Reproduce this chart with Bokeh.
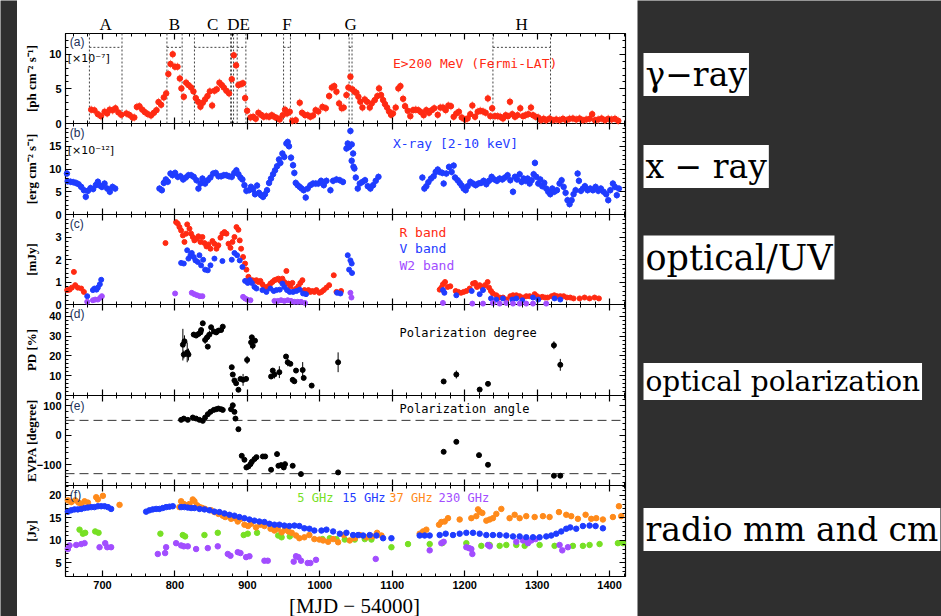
import numpy as np
from bokeh.plotting import figure
from bokeh.layouts import column, row
from bokeh.models import Range1d, FixedTicker, LinearAxis, Label, CustomLabelingPolicy
from bokeh.core.properties import value
from bokeh.embed import file_html
from bokeh.resources import INLINE

# ---------------------------------------------------------------- data
X_RANGE = (649, 1422)                      # MJD - 54000 shown in every panel
X_MAJOR = [700, 800, 900, 1000, 1100, 1200, 1300, 1400]
X_MINOR_STEP = 20

BOX_START = [682, 789, 827, 878, 886, 950, 1040.5, 1239]
BOX_END = [727, 810, 877, 881, 898, 959.5, 1044.5, 1318.5]
BOX_TOP = 11
LETTERS = ["A", "B", "C", "DE", "F", "G", "H"]
LETTER_BOXES = [[0], [1], [2], [3, 4], [5], [6], [7]]

# panel name, value range, labelled ticks, minor step, y title
PANELS = [
    ("a", (0, 13), [0, 5, 10], 1, "[ph cm⁻² s⁻¹]"),
    ("b", (0, 20), [0, 5, 10, 15], 1, "[erg cm⁻² s⁻¹]"),
    ("c", (0, 4), [0, 1, 2, 3], 0.2, "[mJy]"),
    ("d", (0, 46), [0, 10, 20, 30, 40], 2, "PD [%]"),
    ("e", (-170, 134), [-100, 0, 100], 20, "EVPA [degree]"),
    ("f", (2, 22.2), [5, 10, 15, 20], 1, "[Jy]"),
]

GAMMA = [(684.5, 2.0), (689, 1.9), (693.7, 1.35), (698, 1.06), (703, 1.7), (706.5, 1.45), (710, 2.0),
         (714, 1.9), (718, 2.2), (722, 1.6), (726, 1.25), (733, 1.45), (737, 1.25), (741.5, 0.87),
         (744, 0.87), (747.5, 2.4), (751, 2.5), (755, 2.0), (758.6, 1.64), (762.7, 1.35), (767, 1.16),
         (771, 1.55), (774.6, 1.93), (777.4, 3.1), (781, 2.7), (784.7, 3.77), (788, 4.35), (791, 7.15),
         (794, 8.6), (797, 10.0), (800, 8.2), (803.6, 8.2), (806.8, 6.5), (809, 5.07), (812.3, 3.86),
         (815.5, 5.9), (818.7, 5.55), (822.4, 5.2), (825.6, 4.64), (828.8, 3.67), (832, 3.14),
         (835.3, 2.42), (838.5, 3.0), (841.7, 3.48), (845, 3.96), (848.2, 4.64), (851.4, 2.6),
         (854.6, 4.73), (857.8, 4.93), (861.5, 5.9), (864.7, 5.55), (867.5, 5.2), (871.1, 4.73),
         (874.8, 4.35), (878.5, 6.4), (881.3, 9.85), (884.5, 8.4), (887.7, 5.55), (891.4, 5.7),
         (894, 5.8), (897, 3.67), (899.7, 1.84), (904.3, 0.87), (908, 0.97), (911.6, 0.68),
         (915.3, 1.55), (919, 1.25), (922.6, 0.97), (926.3, 1.06), (930, 0.97), (933.7, 1.2),
         (937.3, 0.97), (941, 0.77), (944.6, 0.58), (948.8, 1.2), (952, 2.0), (954.8, 1.45),
         (958.5, 1.7), (962, 0.39), (966.8, 0.48), (972.3, 3.0), (975.5, 1.55), (979.7, 1.2),
         (983.3, 1.2), (987, 0.97), (990.7, 1.16), (994.3, 1.93), (998, 1.74),
         (1003.7, 2.4), (1008.3, 2.2), (1012.9, 3.96), (1016.6, 5.2), (1020, 5.4), (1023, 4.6),
         (1026.7, 2.9), (1030.3, 2.2), (1033, 2.3), (1036.8, 4.1), (1039.5, 5.2), (1042.3, 6.76),
         (1045, 4.93), (1047.8, 4.6), (1050.6, 4.44), (1053.3, 3.86), (1056, 3.14), (1058.9, 2.3),
         (1062, 3.48), (1065.3, 3.14), (1069, 2.3), (1071.7, 2.9), (1075.9, 3.38), (1079.5, 3.96),
         (1081.8, 5.07), (1084.6, 4.1), (1087.4, 3.38), (1090, 2.8), (1092.9, 2.3), (1095.6, 1.74),
         (1098.4, 1.25), (1101, 1.45), (1104.8, 2.3), (1108.5, 5.07), (1111.3, 5.4), (1115, 3.57),
         (1117.7, 2.5), (1121.4, 1.84), (1125, 1.06), (1128.7, 1.93), (1132.4, 2.0), (1136, 1.93),
         (1139.8, 1.64), (1143.4, 1.2), (1147, 1.93), (1150.8, 1.55), (1154.5, 1.93), (1158, 2.2),
         (1162.8, 1.25), (1166.4, 2.3), (1170, 2.3), (1173.8, 1.93), (1177.5, 2.6), (1181, 2.5),
         (1184.8, 0.97), (1188.5, 1.45), (1192, 1.7), (1195.9, 0.87), (1200.5, 0.58), (1204, 0.72),
         (1207.8, 1.35), (1210.6, 2.6), (1214.3, 0.97), (1218, 1.7), (1221.6, 1.84), (1225.3, 1.74),
         (1229, 1.55), (1232, 3.62), (1235.4, 1.06), (1238, 2.2), (1241.8, 1.06), (1245.5, 1.06),
         (1249.2, 0.97), (1252.9, 0.72), (1256.6, 1.2), (1259.8, 1.06), (1262.5, 3.14), (1265.7, 1.35),
         (1269.4, 0.97), (1273, 1.2), (1276.8, 2.2), (1280.5, 1.06), (1284, 1.2), (1287.8, 1.35),
         (1291.5, 2.3), (1294.3, 1.2), (1298, 0.97), (1301.6, 0.87), (1305.3, 0.48), (1309, 0.68),
         (1312.6, 0.48), (1317.2, 0.72), (1321.8, 0.48), (1326.4, 0.58), (1331, 0.48), (1335.6, 0.68),
         (1340.2, 0.48), (1344.8, 0.68), (1349.4, 0.72), (1354, 0.58), (1358.6, 0.72), (1363.2, 0.48),
         (1367.8, 0.58), (1372.4, 0.68), (1376, 1.35), (1379.8, 0.48), (1384.4, 0.58), (1389, 0.72),
         (1393.6, 0.48), (1398.2, 0.68), (1402.8, 0.58), (1407.4, 0.68), (1412, 0.39)]
GAMMA_ERR = 0.6

XRAY = [(651, 9.0), (652, 7.3), (656, 7.2), (659.7, 7.1), (663.3, 6.95), (667, 6.66), (670.7, 6.07),
        (674.4, 5.34), (677, 3.9), (680, 5.2), (683.6, 5.8), (687.2, 5.6), (691, 6.5), (693.7, 7.2),
        (696.4, 6.36), (699.2, 6.07), (702.9, 6.8), (706.6, 5.7), (710.2, 5.0), (713.9, 6.07),
        (717.6, 5.7), (778.7, 5.7), (782, 5.34), (784.7, 6.95), (787.5, 7.7), (790.2, 7.2), (793.9, 9.0),
        (796.7, 8.63), (800.3, 9.14), (804, 8.27), (807.7, 8.4), (811.4, 7.7), (815, 8.12), (818.7, 8.63),
        (822.4, 8.63), (826, 8.27), (829.8, 7.53), (832.5, 5.7), (835.3, 6.8), (838, 7.9), (841.7, 6.8),
        (845.4, 7.53), (849, 8.12), (852.8, 9.0), (856.4, 9.14), (860.1, 8.4), (863.8, 8.4),
        (867.5, 8.63), (871, 8.63), (874.8, 8.4), (878.5, 8.27), (882, 9.14), (884.9, 9.7),
        (887.7, 8.85), (890.5, 8.12), (893.2, 7.7), (896, 6.44), (898.7, 5.2), (902.4, 5.34),
        (905, 6.07), (907.9, 5.5), (910.6, 4.46), (913.4, 6.36), (916.1, 4.76), (918.9, 4.24),
        (921.7, 3.88), (924.4, 4.46), (927.2, 5.34), (930, 6.95), (932.7, 7.9), (935.5, 8.85),
        (938.2, 9.7), (941, 10.6), (943.7, 12.1), (945.6, 11.34), (948.4, 13.4), (951, 12.66),
        (953.9, 15.6), (955.7, 15.95), (957.5, 15.0), (960.3, 12.5), (963.1, 10.83), (964.9, 9.14),
        (966.8, 6.95), (969.5, 6.44), (972.3, 6.07), (975, 5.7), (977.8, 5.34), (980.6, 3.73),
        (983.3, 5.7), (987, 6.44), (990.7, 6.8), (994.4, 6.8), (998, 6.8),
        (1001.8, 7.4), (1005.5, 6.44), (1009.2, 7.4), (1014.7, 5.34), (1018.4, 7.4), (1023, 7.7),
        (1027.6, 7.53), (1032, 7.17), (1036.8, 14.5), (1038.6, 15.6), (1040.5, 14.85), (1042.3, 18.36),
        (1044.1, 15.4), (1046, 13.4), (1044, 11.8), (1046.5, 10.5), (1047.8, 10.1), (1049.7, 8.12),
        (1052.4, 5.7), (1055.2, 6.8), (1058.9, 7.17), (1062.5, 7.53), (1066.2, 6.22), (1069.9, 5.7),
        (1073.6, 6.44), (1077.2, 7.4), (1081, 8.27),
        (1141.6, 8.12), (1144.4, 5.7), (1147.1, 6.22), (1149.9, 7.1), (1153.6, 7.9), (1157.2, 8.4),
        (1160, 9.36), (1162.8, 9.88), (1165.5, 9.36), (1169.2, 9.14), (1171, 6.8), (1174.7, 9.0),
        (1178.4, 10.46), (1182, 9.36), (1184.8, 10.75), (1186.7, 8.12), (1190.3, 7.53), (1193.1, 6.95),
        (1195.9, 6.36), (1198.6, 5.7), (1201.4, 5.34), (1204.1, 6.22), (1207.8, 7.17), (1211.5, 6.8),
        (1215.2, 6.44), (1218.9, 6.8), (1222.5, 6.95), (1226.2, 7.4), (1229.9, 6.66), (1233.6, 7.4),
        (1237.2, 8.27), (1241, 7.7), (1244.6, 7.4), (1248.3, 7.9), (1252, 7.7), (1255.6, 8.12),
        (1259.3, 8.63), (1263, 7.53), (1266.7, 5.0), (1269.4, 8.27), (1272.2, 7.7), (1275.9, 8.85),
        (1278.6, 7.17), (1281.4, 7.9), (1284.1, 7.4), (1286.9, 7.9), (1289.7, 6.8), (1292.4, 7.53),
        (1295.2, 8.85), (1297, 11.34), (1298.9, 8.27), (1301.6, 6.8), (1304.4, 7.7), (1307.1, 6.22),
        (1309.9, 6.95), (1312.6, 5.7), (1315.4, 5.0), (1318.2, 4.46), (1320.9, 5.7), (1323.7, 5.0),
        (1327.4, 5.34), (1331, 6.8), (1333.8, 7.53), (1336.6, 6.07), (1339.3, 4.76), (1342, 3.15),
        (1344.8, 2.27), (1347.6, 3.15), (1350.3, 4.46), (1353.1, 5.34), (1355.9, 9.0), (1357.7, 7.4),
        (1360.5, 5.2), (1363.2, 5.7), (1366, 6.22), (1369.7, 5.34), (1373.3, 5.7), (1377, 5.34),
        (1380.7, 6.07), (1384.4, 5.2), (1388, 5.7), (1391.7, 5.0), (1395.4, 4.46), (1398.2, 3.15),
        (1401, 5.34), (1404.6, 6.8), (1407.4, 6.07), (1410, 4.24), (1412.9, 5.7)]
XRAY_ERR = 0.8

R_BAND = [(651.4, 0.64), (654.6, 0.66), (657.8, 0.75), (660.6, 1.45), (662.4, 0.86), (666, 0.75),
          (670.7, 0.71), (674.4, 0.56), (787, 2.73), (801.7, 3.66), (804, 3.59), (806.3, 3.44),
          (808.6, 3.29), (811, 3.07), (813.2, 2.78), (815.5, 3.15), (817, 3.56), (820.1, 3.37),
          (822.4, 3.15), (824.7, 3.0), (826.9, 2.85), (829.8, 2.92), (832.5, 3.03), (835.3, 2.78),
          (838, 3.0), (840.8, 2.73), (843.6, 2.58), (846.3, 2.67), (849.1, 2.48), (851.8, 2.82),
          (854.6, 2.7), (857.4, 2.48), (860, 2.63), (862.9, 2.97), (865.6, 3.15), (868.4, 3.22),
          (871.2, 3.15), (874, 2.7), (876.7, 2.52), (879.5, 2.78), (882.2, 3.0), (885, 3.44),
          (887.7, 3.32), (889.5, 2.85), (891.4, 2.48), (894.1, 2.11), (896.9, 1.82), (898.7, 1.55),
          (901.5, 1.23), (904.3, 1.08), (907, 1.08), (909.8, 1.05), (912.5, 1.08), (915.3, 1.0),
          (918, 1.05), (920.8, 0.9), (923.6, 0.78), (926.3, 0.75), (929, 0.81), (931.9, 0.93),
          (934.6, 1.0), (937.4, 1.08), (940.1, 1.11), (942.9, 1.15), (945.6, 1.05), (948.4, 1.15),
          (951.1, 1.0), (953.9, 1.49), (956.6, 0.93), (959.4, 0.81), (962.2, 0.96), (964.9, 0.64),
          (967.7, 0.71), (970.5, 0.81), (973.2, 0.96), (976, 1.08), (978.8, 0.64), (981.5, 0.56),
          (984.3, 0.64), (987, 0.56), (989.8, 0.6), (992.5, 0.56), (995.3, 0.64), (999.4, 0.52),
          (1002.3, 0.56), (1005.5, 0.64), (1009.2, 0.75), (1012.9, 0.86), (1019.3, 1.3), (1023, 0.56),
          (1029.4, 0.6), (1165.5, 0.66), (1167.8, 0.75), (1170, 0.9), (1172.9, 1.0), (1176.6, 0.78),
          (1180.2, 0.81), (1187.6, 0.6), (1191.3, 0.56), (1195, 0.52), (1198.6, 0.56), (1202.3, 0.6),
          (1206.9, 0.71), (1211.5, 0.93), (1214.3, 0.96), (1217, 0.78), (1220.7, 0.86), (1224.4, 0.75),
          (1228, 0.86), (1231.7, 1.0), (1233.6, 0.75), (1236.3, 0.6), (1239, 0.49), (1243.7, 0.41),
          (1248.3, 0.31), (1252.9, 0.31), (1257.5, 0.22), (1263, 0.37), (1266.7, 0.41), (1271.3, 0.41),
          (1275.9, 0.37), (1280.5, 0.31), (1285, 0.37), (1289.7, 0.37), (1296.6, 0.46), (1299.8, 0.37),
          (1303.4, 0.31), (1307.1, 0.34), (1310.8, 0.31), (1314.5, 0.31), (1320, 0.37), (1323.7, 0.41),
          (1327.4, 0.37), (1332, 0.37), (1336.6, 0.37), (1341.1, 0.31), (1345.7, 0.31), (1350.3, 0.27),
          (1358.6, 0.27), (1365.5, 0.31), (1372.4, 0.27), (1379.3, 0.31), (1385.3, 0.27)]

V_BAND = [(679, 0.37), (686.8, 0.64), (689, 0.71), (691.8, 0.66), (693.7, 0.75), (696.4, 0.9),
          (698.3, 1.1), (808.6, 1.85), (812.3, 1.82), (817, 2.41), (818.7, 2.04), (821.5, 2.19),
          (823.3, 2.29), (826, 2.11), (828.4, 1.96), (831.6, 1.89), (833.9, 2.19), (836.2, 1.74),
          (839, 1.99), (841.7, 1.55), (845.4, 1.52), (849.1, 1.74), (854.6, 2.04), (865.6, 1.93),
          (878.5, 1.99), (882.2, 2.29), (885.9, 2.19), (889.5, 1.96), (893.2, 1.67), (896.9, 1.05),
          (900.6, 0.96), (903.4, 1.08), (906.2, 0.96), (909.8, 0.78), (912.6, 0.71), (920.8, 0.64),
          (926.3, 0.56), (931.9, 0.71), (936.5, 0.6), (940.1, 0.64), (944.8, 0.66), (948.4, 0.93),
          (951.1, 0.78), (954.8, 0.64), (958.5, 0.56), (963.1, 0.56), (967.7, 0.6), (972.3, 0.66),
          (976.9, 0.49), (981, 0.46), (1023.9, 0.52), (1028.5, 0.49), (1038.6, 2.19), (1042.3, 1.96),
          (1044.1, 1.82), (1040.5, 1.55), (1044.5, 1.4), (1170, 0.64), (1172, 0.52), (1188.5, 0.41),
          (1209.7, 0.6), (1220.7, 0.46), (1225.3, 0.64), (1236.3, 0.27), (1243.7, 0.22), (1252.9, 0.27),
          (1265.7, 0.22), (1271.3, 0.27), (1279.5, 0.19), (1294.3, 0.31), (1301.6, 0.22), (1324.1, 0.27),
          (1332, 0.22)]

W2_BAND = [(679, 0.12), (686.8, 0.19), (690, 0.22), (693.7, 0.22), (697.4, 0.31), (699.2, 0.37),
           (800.3, 0.49), (823.3, 0.52), (826.9, 0.46), (830.7, 0.41), (834.4, 0.37), (838, 0.37),
           (894.1, 0.34), (896.9, 0.27), (899.7, 0.22), (904.3, 0.19), (937.4, 0.16), (942, 0.16),
           (946.5, 0.19), (951.1, 0.16), (955.7, 0.19), (960.3, 0.16), (964.9, 0.12), (969.5, 0.12),
           (974.1, 0.12), (979.6, 0.07), (1042.3, 0.52), (1043.7, 0.31), (1170, 0.07), (1210.6, 0.04),
           (1225.3, 0.04), (1239, 0.07), (1248.3, 0.04), (1257.5, 0.07), (1266.7, 0.04), (1275.9, 0.04),
           (1285, 0.04), (1294.3, 0.04), (1312.6, 0.04)]

PD = [(811, 25.7, 8), (813.2, 27.4, 3), (812.3, 20.7, 2), (817, 21.8, 5), (818.7, 20.7, 3),
      (826, 30.8, 1), (829.3, 30.3, 1), (832.5, 31.1, 1), (835.3, 31.9, 1.5), (836.2, 33.1, 1),
      (838.5, 36.5, 1), (841.7, 28.1, 2), (844.5, 29.4, 2), (845.4, 24.7, 1), (847.7, 30.8, 2),
      (850, 34.5, 1), (853.7, 32.4, 1), (857, 31.9, 1), (860.1, 32.8, 1), (863.8, 33.1, 1),
      (866.1, 34.8, 1), (878.5, 14.3, 1), (879.9, 10.6, 1), (882.2, 7.6, 1), (884.5, 6.2, 1),
      (887.7, 2.9, 1), (890.5, 8.4, 1), (894.1, 7.9, 3), (898.3, 8.4, 1), (899.7, 18.0, 2),
      (905.2, 26.9, 3), (906.2, 29.4, 1), (907.5, 25.2, 2), (910.6, 27.7, 1), (932.8, 9.6, 1),
      (935.1, 12.6, 1), (937.4, 10.6, 2), (944.2, 11.8, 3), (953.4, 19.7, 1), (955.7, 16.8, 2),
      (959.4, 16.0, 1), (962.6, 7.9, 1), (964.9, 7.2, 1), (967.2, 12.6, 1), (976.4, 12.9, 4),
      (977.8, 8.9, 1), (988.8, 5.0, 1), (1025.3, 16.8, 5), (1171, 7.1, 1), (1188.5, 10.6, 2),
      (1220.7, 3.0, 1), (1232.2, 5.9, 1), (1323.2, 25.4, 2), (1332, 15.5, 3)]

EVPA = [(808.6, 51.7), (812.3, 56), (817.8, 51.7), (824.7, 59.6), (829.3, 56), (833.9, 51.7),
        (838.5, 48.3), (841.7, 59.6), (845.4, 70.8), (849.1, 78.7), (853.7, 85.4), (857, 87.6),
        (860.1, 89.9), (863.8, 87.6), (866.1, 85.4), (877.5, 87.6), (879.9, 101), (882.2, 78.7),
        (883.6, 56), (887.7, 20.2), (892.3, -69.7), (896, -83.1), (898.7, -109), (901.5, -105.6),
        (904.3, -97.8), (906.2, -89.9), (909.8, -80.9), (912.6, -74.2), (921.4, -71.9), (924.6, -71.9),
        (932.8, -116.9), (941, -64), (942.9, -103.4), (946.6, -101.1), (950.3, -109), (952, -97.8),
        (962.6, -103.4), (974, -131.5), (1025.3, -125.8), (1171, -56.2), (1188.5, -22.5),
        (1219.8, -67.4), (1232.2, -100), (1323.2, -137), (1332, -137)]
EVPA_REF = [50, -130]

RADIO_15 = [(652.3, 16.4), (656.9, 16.7), (661.5, 16.9), (666, 16.9), (670.7, 17.0), (675.3, 17.2),
            (679.9, 17.3), (684.5, 17.4), (689, 17.4), (693.7, 17.6), (698.3, 17.6), (702.9, 17.6),
            (707.5, 17.4), (712, 17.0), (760.3, 16.4), (764.9, 16.7), (769.5, 16.9), (774.1, 17.0),
            (778.7, 17.0), (783.3, 17.2), (787.9, 17.4), (792.5, 17.5), (797.1, 17.6), (808.6, 17.4),
            (813.2, 17.4), (817.8, 17.3), (822.4, 17.2), (827, 17.2), (834, 17.0), (840.8, 16.9),
            (847.7, 16.7), (854.6, 16.4), (861.5, 16.3), (868.4, 16.0), (875.3, 15.7), (882.2, 15.5),
            (889, 15.2), (896, 14.95), (902.9, 14.65), (909.8, 14.4), (916.6, 14.2), (923.6, 14.1),
            (930.5, 13.7), (937.4, 13.5), (944.3, 13.5), (951.1, 13.3), (958, 13.2), (965, 13.3),
            (971.8, 13.2), (978.7, 12.7), (985.7, 12.6), (992.5, 12.2), (1002.3, 12.2), (1009.2, 12.4),
            (1018.4, 12.0), (1027.6, 11.5), (1036.8, 11.7), (1046, 11.2), (1052.9, 11.2), (1059.8, 11.1),
            (1069, 11.2), (1078.2, 11.1), (1087.4, 10.5), (1098.9, 10.5), (1137.9, 11.1), (1144.8, 11.1),
            (1151.7, 11.1), (1165.5, 11.2), (1173.8, 11.5), (1183.9, 11.2), (1193.1, 11.5), (1202.3, 11.7),
            (1211.5, 11.7), (1220.7, 11.5), (1229.9, 11.2), (1239, 11.2), (1248.3, 11.2), (1257.5, 11.1),
            (1266.7, 10.9), (1275.9, 10.9), (1285, 10.7), (1294.3, 10.7), (1303.4, 10.7), (1312.6, 10.9),
            (1319.5, 11.1), (1326.4, 11.5), (1333.3, 12.0), (1340.2, 12.6), (1345.7, 12.9), (1354, 12.6),
            (1363.2, 13.2), (1372.4, 13.3), (1380.7, 13.2), (1390.8, 12.7)]

RADIO_37 = [(652.3, 18.9), (656.9, 18.5), (662.4, 18.9), (667, 18.4), (670.7, 18.1), (675.3, 18.7),
            (679.9, 18.4), (691.4, 19.6), (693.7, 19.1), (700.6, 19.9), (723.6, 17.9), (806.3, 17.4),
            (808.6, 18.7), (812.3, 18.1), (816, 17.8), (820.1, 18.1), (824.7, 19.1), (827, 18.7),
            (830.7, 17.8), (834.4, 17.4), (838, 17.2), (841.7, 17.0), (850, 16.7), (854.6, 16.3),
            (860.1, 15.9), (866.1, 15.5), (869.4, 15.2), (873, 15.4), (877.6, 14.8), (882.2, 14.95),
            (886.8, 14.2), (891.4, 14.8), (896, 13.5), (901, 13.2), (905.2, 13.7), (912, 12.9),
            (918, 13.5), (923.6, 13.2), (932, 12.6), (937.4, 12.2), (942, 12.6), (947.5, 11.8),
            (952, 12.4), (956.7, 12.0), (961.3, 11.7), (967.2, 11.1), (971.8, 10.5), (978.7, 10.7),
            (985.6, 11.2), (992.5, 10.3), (999.4, 10.2), (1004.6, 10.0), (1011.5, 9.7), (1018.4, 10.3),
            (1025.3, 9.6), (1033.1, 11.2), (1041.4, 10.0), (1048.3, 10.5), (1055.2, 11.2), (1064.4, 10.7),
            (1072.6, 10.9), (1079.1, 11.7), (1085.1, 11.1), (1137.9, 11.5), (1142.5, 12.0), (1147.1, 12.4),
            (1164.6, 13.5), (1167.8, 14.1), (1172.4, 14.2), (1177, 14.95), (1193.1, 14.65), (1209.2, 14.95),
            (1216.1, 15.4), (1218.4, 16.9), (1220.7, 16.4), (1224.4, 16.1), (1229.9, 14.4), (1234.5, 14.65),
            (1239, 14.95), (1243.7, 15.9), (1250.6, 17.0), (1262, 14.95), (1269, 15.7), (1275.9, 14.95),
            (1285, 15.4), (1296.6, 15.2), (1308, 15.4), (1317.2, 15.2), (1330.1, 16.3), (1340.2, 15.7),
            (1347.1, 15.4), (1356.3, 14.8), (1366.9, 15.7), (1374.7, 14.8), (1381.6, 14.95),
            (1390.8, 14.65), (1404.6, 15.2), (1412.9, 17.6), (1416.1, 15.4)]

RADIO_5 = [(668.4, 12.4), (673, 11.5), (676.2, 11.7), (690, 12.0), (694.6, 11.7), (780, 11.5),
           (810.9, 11.2), (814.1, 10.9), (840.8, 11.2), (859.2, 11.7), (895, 11.2), (900.6, 11.5),
           (913.4, 11.7), (942.6, 11.1), (947.3, 10.7), (958.6, 10.9), (1003.7, 10.3), (1013.8, 10.5),
           (1023, 10.3), (1034.5, 10.2), (1048.3, 10.2), (1062.1, 10.3), (1071.3, 10.2), (1098.9, 8.5),
           (1121.8, 9.2), (1151.7, 9.2), (1169.2, 9.4), (1202.3, 9.4), (1223, 8.8), (1234.5, 9.0),
           (1248.3, 8.8), (1257.5, 9.0), (1271.3, 9.0), (1282.8, 8.8), (1303.4, 9.0), (1324.1, 8.8),
           (1349.4, 8.8), (1363.2, 8.8), (1372.4, 9.0), (1386.2, 9.2), (1411.5, 9.4), (1418.4, 9.4)]

RADIO_230 = [(652.3, 8.1), (654.6, 8.9), (663.8, 9.0), (670.7, 9.2), (675.3, 9.4), (696, 8.5),
             (703.8, 9.4), (706.6, 8.5), (712, 8.5), (776.4, 7.0), (787.9, 8.5), (786.5, 7.2),
             (801.7, 9.4), (808.6, 8.9), (812.3, 8.7), (817.8, 8.7), (829.3, 8.1), (845.4, 8.3),
             (859.2, 8.7), (873, 7.0), (876.7, 6.6), (886.8, 7.4), (890.5, 7.2), (898.3, 6.3),
             (902.9, 6.5), (923.6, 5.5), (928.2, 5.5), (964, 5.3), (967.2, 6.5), (970.5, 6.3),
             (974.1, 5.5), (983.3, 5.0), (987, 5.0), (994.8, 5.7), (1077.2, 5.9), (1151.7, 7.8),
             (1167.8, 9.4), (1171, 9.7), (1202.3, 8.5), (1206, 8.3), (1209.2, 8.1), (1210.6, 7.0),
             (1232.2, 9.0), (1234.5, 8.7), (1271.3, 9.7), (1280.5, 10.0), (1287.4, 9.4), (1292, 10.0),
             (1298, 10.3), (1331, 9.0), (1334.7, 7.8), (1342.5, 8.5)]

RIGHT_LABELS = ["γ−ray", "x − ray", "optical/UV", "optical polarization", "radio mm and cm"]

# ---------------------------------------------------------------- layout / style
BG = "#2f2f2f"
RED = "#ff2a12"
BLUE = "#1f3cff"
PURPLE = "#a24dff"
GREEN = "#77e024"
ORANGE = "#ff8a1a"
NAVY = "#22305a"
MONO = "DejaVu Sans Mono"
TICK_FONT = "Liberation Sans"
TICK_SIZE = "11px"

PAGE_W, PAGE_H = 941, 616
LEFT_DARK, TOP_DARK = 17, 4
COL_W = 620                                   # white sheet width
SHEET_H = PAGE_H - TOP_DARK
BOX_L_PX, BOX_R_PX = 65, 625                  # panel box edges in page pixels
BAND_PX = [(33, 123), (123, 214), (214, 304), (304, 395), (395, 485), (485, 576)]

# x range of the white sheet so that X_RANGE falls on the panel box edges
sx = (BOX_R_PX - BOX_L_PX) / (X_RANGE[1] - X_RANGE[0])
sheet_x = Range1d(X_RANGE[0] - (BOX_L_PX - LEFT_DARK) / sx,
                  X_RANGE[1] + (LEFT_DARK + COL_W - BOX_R_PX) / sx)


def band_range(lo, hi, top_px, bot_px):
    s = (bot_px - top_px) / (hi - lo)
    return Range1d(lo - (PAGE_H - bot_px) / s, hi + (top_px - TOP_DARK) / s)


def px_to_x(px):
    return X_RANGE[0] + (px - BOX_L_PX) / sx


NO_LABELS = CustomLabelingPolicy(code="for (const i of indices) { indices.unset(i) }\nreturn indices")

x_minor = [float(v) for v in np.arange(660, X_RANGE[1] + 1e-9, X_MINOR_STEP)]
xtick = FixedTicker(ticks=X_MAJOR, minor_ticks=x_minor)

p = figure(width=COL_W, height=SHEET_H, x_range=sheet_x,
           y_range=Range1d(PAGE_H, TOP_DARK),            # default range = page pixels (down)
           x_axis_type=None, y_axis_type=None, min_border=0,
           background_fill_color="white", border_fill_color="white", outline_line_color=None,
           output_backend="svg", toolbar_location=None)
p.grid.visible = False

extra = {}
for (name, (lo, hi), majors, step, title), (t_px, b_px) in zip(PANELS, BAND_PX):
    extra[name] = band_range(lo, hi, t_px, b_px)
p.extra_y_ranges = extra


def style_axis(ax, labels):
    ax.axis_line_color = None
    ax.major_tick_in = 6
    ax.major_tick_out = 0
    ax.minor_tick_in = 3
    ax.minor_tick_out = 0
    ax.major_tick_line_width = 1.2
    ax.major_tick_line_color = "black"
    ax.minor_tick_line_color = "black"
    if labels:
        ax.major_label_text_font = TICK_FONT
        ax.major_label_text_font_style = "bold"
        ax.major_label_text_font_size = TICK_SIZE
        ax.major_label_text_color = "black"
        ax.major_label_standoff = 4
    else:
        ax.major_label_text_font_size = "0px"
        ax.major_label_standoff = 0
        ax.major_label_policy = NO_LABELS


for (name, (lo, hi), majors, step, title), (t_px, b_px) in zip(PANELS, BAND_PX):
    minors = [float(v) for v in np.arange(np.ceil(lo / step) * step, hi + 1e-9, step) if lo <= v <= hi]
    yt = FixedTicker(ticks=majors, minor_ticks=minors)
    left = LinearAxis(y_range_name=name, ticker=yt, fixed_location=X_RANGE[0])
    style_axis(left, True)
    p.add_layout(left, "left")
    right = LinearAxis(y_range_name=name, ticker=yt, fixed_location=X_RANGE[1])
    style_axis(right, False)
    p.add_layout(right, "right")
    above = LinearAxis(y_range_name=name, ticker=xtick, fixed_location=hi)
    style_axis(above, False)
    p.add_layout(above, "above")
    below = LinearAxis(y_range_name=name, ticker=xtick, fixed_location=lo)
    style_axis(below, name == "f")
    p.add_layout(below, "below")
    p.quad(left=X_RANGE[0], right=X_RANGE[1], bottom=lo, top=hi, fill_color=None,
           line_color="black", line_width=1.2, y_range_name=name)
    # rotated y title, centred on the panel
    p.text(x=[px_to_x(31)], y=[(t_px + b_px) / 2], text=[title], angle=np.pi / 2,
           text_font=value("Liberation Serif"), text_font_style="bold", text_font_size="13px",
           text_align="center", text_baseline="middle", text_color="black")

# x title and box letters (page-pixel y)
p.text(x=[px_to_x(354)], y=[605], text=["[MJD − 54000]"], text_font=value("Liberation Serif"),
       text_font_size="21px", text_align="center", text_baseline="middle", text_color="black")
letter_x = [(min(BOX_START[i] for i in g) + max(BOX_END[i] for i in g)) / 2 for g in LETTER_BOXES]
p.text(x=letter_x, y=[24] * len(LETTERS), text=LETTERS, text_font=value("Liberation Serif"),
       text_font_size="17px", text_align="center", text_baseline="middle", text_color="black")


def unzip(pairs):
    return [np.array(c, dtype=float) for c in zip(*pairs)]


def label(name, x, y, text, color="black", font=MONO, size="13px"):
    p.add_layout(Label(x=x, y=y, y_range_name=name, text=text, text_color=color, text_font=font,
                       text_font_size=size, text_align="left", text_baseline="middle"))


# (a) gamma
for s, e in zip(BOX_START, BOX_END):
    p.segment(x0=[s, e, s], y0=[0, 0, BOX_TOP], x1=[s, e, e], y1=[13, 13, BOX_TOP],
              line_color="#444444", line_dash="2 2", line_width=1, y_range_name="a")
gx, gy = unzip(GAMMA)
p.segment(x0=gx, y0=gy - GAMMA_ERR, x1=gx, y1=gy + GAMMA_ERR, line_color="#ff9c8c", y_range_name="a")
p.scatter(gx, gy, size=5.5, fill_color=RED, line_color=RED, y_range_name="a")
label("a", 655, 11.8, "(a)", NAVY, "Liberation Sans", "12px")
label("a", 652, 9.4, "[×10⁻⁷]", "black", "DejaVu Sans", "11px")
label("a", 1101, 8.6, "E>200 MeV (Fermi-LAT)", RED)

# (b) x-ray
xx, xy = unzip(XRAY)
p.segment(x0=xx, y0=xy - XRAY_ERR, x1=xx, y1=xy + XRAY_ERR, line_color="#8c9cff", y_range_name="b")
p.scatter(xx, xy, size=5.5, fill_color=BLUE, line_color=BLUE, y_range_name="b")
label("b", 655, 17.9, "(b)", NAVY, "Liberation Sans", "12px")
label("b", 652, 14.1, "[×10⁻¹²]", "black", "DejaVu Sans", "11px")
label("b", 1101, 15.7, "X-ray [2-10 keV]", BLUE)

# (c) optical
for data, col in ((R_BAND, RED), (V_BAND, BLUE), (W2_BAND, PURPLE)):
    ox, oy = unzip(data)
    p.scatter(ox, oy, size=5, fill_color=col, line_color=col, y_range_name="c")
label("c", 655, 3.6, "(c)", NAVY, "Liberation Sans", "12px")
label("c", 1110, 3.18, "R band", RED)
label("c", 1110, 2.47, "V band", BLUE)
label("c", 1110, 1.75, "W2 band", PURPLE)

# (d) polarization degree
qx, qy, qe = unzip(PD)
p.segment(x0=qx, y0=qy - qe, x1=qx, y1=qy + qe, line_color="black", y_range_name="d")
p.scatter(qx, qy, size=5, fill_color="black", line_color="black", y_range_name="d")
label("d", 655, 41, "(d)", NAVY, "Liberation Sans", "12px")
label("d", 1110, 31.8, "Polarization degree", "black", MONO, "12px")

# (e) polarization angle
p.segment(x0=[X_RANGE[0]] * len(EVPA_REF), y0=EVPA_REF, x1=[X_RANGE[1]] * len(EVPA_REF), y1=EVPA_REF,
          line_color="#333333", line_dash="9 5", line_width=1, y_range_name="e")
ex, ey = unzip(EVPA)
p.scatter(ex, ey, size=5, fill_color="black", line_color="black", y_range_name="e")
label("e", 655, 99, "(e)", NAVY, "Liberation Sans", "12px")
label("e", 1110, 88.6, "Polarization angle", "black", MONO, "12px")

# (f) radio
for data, col in ((RADIO_5, GREEN), (RADIO_230, PURPLE), (RADIO_37, ORANGE), (RADIO_15, BLUE)):
    rx, ry = unzip(data)
    p.scatter(rx, ry, size=5.5, fill_color=col, line_color=col, y_range_name="f")
label("f", 655, 20.1, "(f)", NAVY, "Liberation Sans", "12px")
label("f", 969, 19.4, "5 GHz", GREEN, MONO, "12px")
label("f", 1031, 19.4, "15 GHz", BLUE, MONO, "12px")
label("f", 1096, 19.4, "37 GHz", ORANGE, MONO, "12px")
label("f", 1164, 19.4, "230 GHz", PURPLE, MONO, "12px")


# ---------------------------------------------------------------- dark surround + right labels
def dark(w, h):
    return figure(width=w, height=h, x_axis_type=None, y_axis_type=None,
                  x_range=Range1d(0, 1), y_range=Range1d(0, 1),
                  outline_line_color=None, background_fill_color=BG, border_fill_color=BG,
                  min_border=0, output_backend="svg", toolbar_location=None)


RW = PAGE_W - LEFT_DARK - COL_W
rt = figure(width=RW, height=PAGE_H, x_range=Range1d(0, RW), y_range=Range1d(PAGE_H, 0),
            x_axis_type=None, y_axis_type=None, outline_line_color=None,
            background_fill_color=BG, border_fill_color=BG, min_border=0,
            output_backend="svg", toolbar_location=None)
RIGHT_Y = [74, 166, 257, 381, 529]
RIGHT_SIZE = ["33px", "33px", "35px", "28px", "33px"]
for txt, yc, fs in zip(RIGHT_LABELS, RIGHT_Y, RIGHT_SIZE):
    rt.add_layout(Label(x=6, y=yc, text=txt, text_font="DejaVu Serif", text_font_size=fs,
                        text_color="black", text_baseline="middle", text_align="left",
                        background_fill_color="white", background_fill_alpha=1.0, padding=2))

layout = row(dark(LEFT_DARK, PAGE_H), column(dark(COL_W, TOP_DARK), p), rt)

open("out.html", "w").write(file_html(layout, INLINE, "chart"))
